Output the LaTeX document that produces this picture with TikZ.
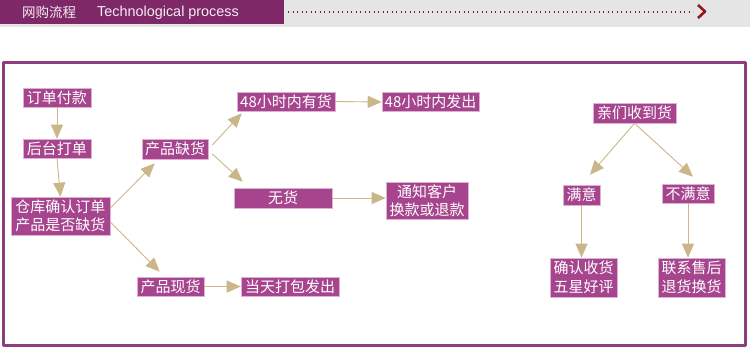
\documentclass[tikz,border=0pt]{standalone}
\usepackage{fontspec}
\setmainfont{Liberation Sans}
\newfontfamily\cjk{Noto Sans CJK SC}
\usepackage{xcolor}
\usetikzlibrary{arrows.meta, calc, positioning}

\definecolor{headpurple}{RGB}{126,40,104}
\definecolor{headgrey}{RGB}{229,229,229}
\definecolor{headred}{RGB}{150,22,32}
\definecolor{framepurple}{RGB}{142,62,126}
\definecolor{boxpurple}{RGB}{166,68,142}
\definecolor{boxedge}{RGB}{222,176,212}
\definecolor{arrowtan}{RGB}{202,182,136}

\tikzset{
  procbox/.style={fill=boxpurple, draw=boxedge, line width=0.6pt, text=white,
    font=\cjk\fontsize{15}{18.5}\selectfont, inner sep=0pt, align=center},
  flowarrow/.style={draw=arrowtan, line width=0.9pt, -{Triangle[length=14pt,width=12pt]}},
}

\begin{document}
\begin{tikzpicture}[x=1pt, y=-1pt, line join=round]
  \useasboundingbox (0,0) rectangle (750,349);

  % Header band
  \fill[headgrey] (0,0) rectangle (750,27);
  \fill[headpurple] (0,0) rectangle (284,24);
  \node[anchor=west, inner sep=0pt, text=white!92!headpurple, font=\cjk\fontsize{13.5}{14}\selectfont] (hdcn) at (22,12.5) {网购流程};
  \node[anchor=west, inner sep=0pt, text=white!92!headpurple, font=\fontsize{14.4}{15}\selectfont] (hden) at (97,12.5) {Technological process};
  \draw[headred, line width=1.3pt, dash pattern=on 1.2pt off 3.3pt] (288,12) -- (693,12);
  \draw[headred, line width=2.6pt] (698,5) -- (705,11.5) -- (698,18);

  % Outer frame
  \draw[framepurple, line width=3pt] (3,62) rectangle (745,345);

  % Order steps
  \node[procbox, minimum width=68pt, minimum height=19pt] (fukuan) at (57,97.5) {订单付款};
  \node[procbox, minimum width=68pt, minimum height=19pt] (dadan) at (57,148.5) {后台打单};
  \node[procbox, minimum width=99pt, minimum height=38pt] (queren) at (60.5,216) {仓库确认订单\\产品是否缺货};

  % Stock branches
  \node[procbox, minimum width=66pt, minimum height=20pt] (quehuo) at (175,149) {产品缺货};
  \node[procbox, minimum width=98pt, minimum height=19pt] (youhuo) at (286,101.5) {48小时内有货};
  \node[procbox, minimum width=97pt, minimum height=19pt] (fachu) at (430.5,102) {48小时内发出};
  \node[procbox, minimum width=98pt, minimum height=20pt] (wuhuo) at (283,198) {无货};
  \node[procbox, minimum width=82pt, minimum height=37pt] (tongzhi) at (427,200.5) {通知客户\\换款或退款};
  \node[procbox, minimum width=67pt, minimum height=19pt] (xianhuo) at (170.5,286.5) {产品现货};
  \node[procbox, minimum width=98pt, minimum height=19pt] (dangtian) at (290,286.5) {当天打包发出};

  % Receipt branches
  \node[procbox, minimum width=83pt, minimum height=20pt] (shoudao) at (634.5,113) {亲们收到货};
  \node[procbox, minimum width=37pt, minimum height=20pt] (manyi) at (581.5,195) {满意};
  \node[procbox, minimum width=52pt, minimum height=19pt] (bumanyi) at (688,193.5) {不满意};
  \node[procbox, minimum width=67pt, minimum height=39pt] (haoping) at (583.5,277.5) {确认收货\\五星好评};
  \node[procbox, minimum width=67pt, minimum height=39pt] (shouhou) at (691.5,277.5) {联系售后\\退货换货};

  % Connectors
  \draw[flowarrow] (fukuan.south) -- (dadan.north);
  \draw[flowarrow] (dadan.south) -- (queren.north);
  \draw[flowarrow] ($(queren.east)+(0,-8)$) -- ($(quehuo.south west)+(13,4)$);
  \draw[flowarrow] ($(queren.east)+(0,6)$) -- ($(xianhuo.north west)+(23,-5)$);
  \draw[flowarrow] ($(quehuo.east)+(4,-4)$) -- ($(youhuo.south west)+(5,2)$);
  \draw[flowarrow] ($(quehuo.east)+(4,5)$) -- ($(wuhuo.north west)+(9,-6)$);
  \draw[flowarrow] (youhuo.east) -- (fachu.west);
  \draw[flowarrow] (wuhuo.east) -- (wuhuo.east -| tongzhi.west);
  \draw[flowarrow] (xianhuo.east) -- (dangtian.west);
  \draw[flowarrow] (shoudao.south) -- ($(manyi.north)+(8.5,-10)$);
  \draw[flowarrow] (shoudao.south) -- ($(bumanyi.north)+(5,-7)$);
  \draw[flowarrow] (manyi.south) -- (manyi.south |- haoping.north);
  \draw[flowarrow] (bumanyi.south) -- (bumanyi.south |- shouhou.north);
\end{tikzpicture}
\end{document}
